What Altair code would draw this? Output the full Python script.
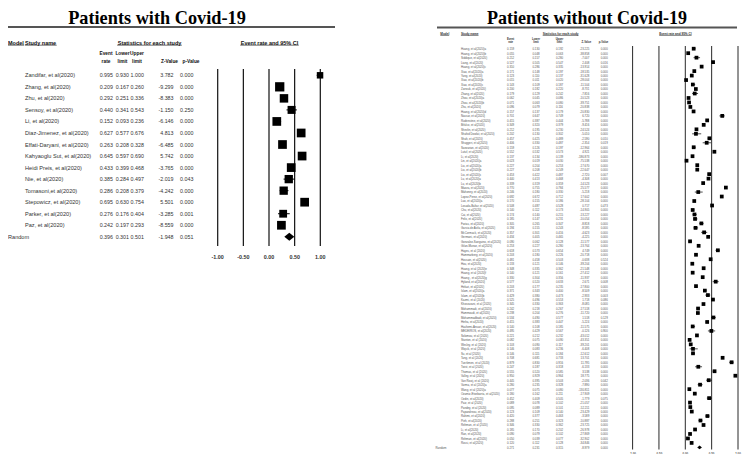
import altair as alt
import pandas as pd

# ---------------- data: patients with Covid-19 ----------------
L_NAMES = ["Zandifar, et al(2020)", "Zhang, et al(2020)", "Zhu, et al(2020)", "Sensoy, et al(2020)",
           "Li, et al(2020)", "Diaz-Jimenez, et al(2020)", "Effati-Daryani, et al(2020)",
           "Kahyaoglu Sut, et al(2020)", "Heidi Preis, et al(2020)", "Nie, et al(2020)",
           "Tomasoni,et al(2020)", "Stepowicz, et al(2020)", "Parker, et al(2020)", "Paz, et al(2020)"]
L_ER = [0.995, 0.209, 0.292, 0.440, 0.152, 0.627, 0.263, 0.645, 0.433, 0.385, 0.286, 0.695, 0.276, 0.242]
L_LL = [0.930, 0.167, 0.251, 0.341, 0.093, 0.577, 0.208, 0.597, 0.399, 0.284, 0.208, 0.630, 0.176, 0.197]
L_UL = [1.000, 0.260, 0.336, 0.543, 0.236, 0.676, 0.328, 0.690, 0.468, 0.497, 0.379, 0.754, 0.404, 0.293]
L_Z = [3.782, -9.299, -8.383, -1.150, -6.146, 4.813, -6.485, 5.742, -3.765, -2.019, -4.242, 5.501, -3.285, -8.559]
L_P = [0.000, 0.000, 0.000, 0.250, 0.000, 0.000, 0.000, 0.000, 0.000, 0.043, 0.000, 0.000, 0.001, 0.000]
L_WEIGHT = [4.2, 8.6, 7.2, 6.4, 7.6, 7.6, 7.6, 7.6, 7.6, 6.9, 6.9, 7.6, 6.1, 7.6]
L_RANDOM = [0.396, 0.301, 0.501, -1.948, 0.051]

# ---------------- data: patients without Covid-19 ----------------
R_NAMES = [
    "Huang, et al(2020)a", "Huang, et al(2020)b", "Siddique, et al(2020)", "Liang, et al(2020)",
    "Huang, et al(2020)c", "Xiao, et al(2020)a", "Yang, et al(2020)", "Xiao, et al(2020)b",
    "Xiao, et al(2020)c", "Zarrouk, et al(2020)", "Zhang, et al(2020)", "Zhou, et al(2020)a",
    "Zhou, et al(2020)b", "Zhu, et al(2020)", "Huang, et al(2020)d", "Nassar, et al(2020)",
    "Rudenstine, et al(2020)", "Bifulco, et al(2020)", "Shevlin, et al(2020)",
    "Shahid Dowlat, et al(2020)", "Shah, et al(2020)", "Shuggeri, et al(2020)",
    "Sarwarian, et al(2020)", "Lutuf, et al(2020)", "Li, et al(2020)", "Lin, et al(2020)a",
    "Liu, et al(2020)a", "Liu, et al(2020)b", "Liu, et al(2020)c", "Lu, et al(2020)a",
    "Lu, et al(2020)b", "Mazza, et al(2020)", "Mahoney, et al(2020)", "Lopez-Perez, et al(2020)",
    "Luo, et al(2020)a", "Losada-Baltar, et al(2020)", "Chu, et al(2020)", "Cai, et al(2020)",
    "Felix, et al(2020)", "Farias, et al(2020)", "Garcia de Avila, et al(2020)",
    "McCormack, et al(2020)", "Germani, et al(2020)", "Gonzalez-Sanguino, et al(2020)",
    "Gilan-Munoz, et al(2020)", "Hayes, et al (2020)", "Hammarberg, et al(2020)",
    "Hossain, et al(2020)", "Hou, et al(2020)", "Huang, et al (2020)e", "Huang, et al (2020)f",
    "Huang , et al(2020)g", "Hyland, et al(2020)", "Hefazi, et al(2020)", "Islam, et al(2020)a",
    "Islam, et al(2020)b", "Kazmi, et al (2020)", "Khosravani, et al (2020)",
    "Mohammadi, et al(2020)", "Hammoudi, et al(2020)", "Mohammadbadi, et al(2020)",
    "Hinha, et al(2020)", "Hashemi-Ansari, et al(2020)", "MEDEIROS, et al(2020)",
    "Solomou, et al (2020)", "Stanton, et al (2020)", "Wesley, et al (2020)",
    "Wojcik, et al (2020)", "Su, et al (2020)", "Tang, et al (2020)", "Tuerkmen, et al (2020)",
    "Twist, et al (2020)", "Thomas, et al (2020)", "Valley, et al (2020)",
    "Van Rooij, et al (2020)", "Varma, et al (2020)a", "Wang, et al (2020)a",
    "Ozamiz-Etxebarria, et al(2020)", "Ozdin, et al(2020)", "Paiz, et al (2020)",
    "Pandey, et al (2020)", "Papandreou, et al(2020)", "Rahimi, et al(2020)", "Pieh, et al(2020)",
    "Rehman, et al (2020)", "Li, et al(2020)", "Ran, et al(2020)", "Rehman, et al(2020)",
    "Rossi, et al(2020)"]
R_ER = [0.159, 0.055, 0.212, 0.527, 0.310, 0.171, 0.123, 0.015, 0.143, 0.200,
        0.179, 0.062, 0.071, 0.096, 0.157, 0.701, 0.415, 0.349, 0.212, 0.202,
        0.457, 0.406, 0.159, 0.552, 0.137, 0.023, 0.227, 0.227, 0.453, 0.440,
        0.339, 0.770, 0.246, 0.692, 0.170, 0.508, 0.140, 0.174, 0.185, 0.305,
        0.194, 0.357, 0.434, 0.090, 0.253, 0.618, 0.203, 0.481, 0.133, 0.348,
        0.140, 0.330, 0.577, 0.203, 0.371, 0.429, 0.525, 0.345, 0.242, 0.238,
        0.534, 0.415, 0.140, 0.495, 0.221, 0.082, 0.103, 0.146, 0.146, 0.708,
        0.879, 0.247, 0.555, 0.950, 0.445, 0.280, 0.077, 0.180, 0.452, 0.089,
        0.095, 0.123, 0.420, 0.288, 0.346, 0.185, 0.090, 0.050, 0.120]
R_LL = [0.130, 0.048, 0.157, 0.505, 0.286, 0.148, 0.110, 0.011, 0.109, 0.182,
        0.129, 0.045, 0.063, 0.079, 0.137, 0.647, 0.387, 0.320, 0.195, 0.130,
        0.425, 0.330, 0.126, 0.532, 0.134, 0.019, 0.204, 0.208, 0.422, 0.413,
        0.319, 0.755, 0.180, 0.672, 0.155, 0.487, 0.112, 0.140, 0.147, 0.265,
        0.155, 0.301, 0.405, 0.062, 0.227, 0.573, 0.180, 0.458, 0.121, 0.335,
        0.121, 0.304, 0.520, 0.177, 0.343, 0.380, 0.496, 0.330, 0.218, 0.204,
        0.490, 0.383, 0.108, 0.429, 0.212, 0.075, 0.090, 0.083, 0.115, 0.681,
        0.830, 0.187, 0.520, 0.929, 0.395, 0.235, 0.075, 0.162, 0.409, 0.078,
        0.089, 0.109, 0.377, 0.251, 0.330, 0.170, 0.079, 0.039, 0.112]
R_UL = [0.192, 0.063, 0.280, 0.547, 0.335, 0.197, 0.137, 0.020, 0.187, 0.220,
        0.242, 0.086, 0.080, 0.116, 0.179, 0.749, 0.444, 0.379, 0.230, 0.302,
        0.489, 0.487, 0.197, 0.573, 0.139, 0.030, 0.253, 0.249, 0.487, 0.468,
        0.359, 0.784, 0.330, 0.712, 0.186, 0.528, 0.173, 0.215, 0.231, 0.347,
        0.243, 0.416, 0.465, 0.128, 0.280, 0.654, 0.226, 0.503, 0.146, 0.362,
        0.161, 0.356, 0.633, 0.235, 0.400, 0.473, 0.553, 0.363, 0.267, 0.276,
        0.577, 0.447, 0.185, 0.567, 0.232, 0.090, 0.117, 0.236, 0.184, 0.733,
        0.916, 0.318, 0.585, 0.964, 0.503, 0.328, 0.080, 0.211, 0.505, 0.102,
        0.101, 0.140, 0.463, 0.323, 0.362, 0.202, 0.102, 0.077, 0.128]
R_Z = [-23.225, -38.858, -7.007, 2.408, -13.914, -18.535, -31.628, -28.004, -11.504, -8.731,
       -7.816, -10.523, -39.751, -20.838, -20.830, 6.720, -5.788, -9.416, -24.524, -5.010,
       -2.590, -2.354, -12.964, 4.921, -186.873, -75.538, -17.670, -22.647, -2.720, -4.308,
       -14.523, 25.577, -5.218, 17.602, -28.104, 0.717, -14.905, -13.227, -10.054, -8.818,
       -8.595, -4.623, -4.225, -11.577, -13.764, 4.749, -20.718, -0.638, -39.204, -21.548,
       -27.412, -11.937, 2.671, -17.800, -8.509, -2.933, 1.718, -8.085, -17.518, -11.720,
       1.518, -5.224, -11.575, -0.126, -43.012, -43.351, -39.201, -6.408, -12.612, 13.701,
       11.795, -6.133, 3.538, 18.775, -2.036, -7.890, -130.811, -17.909, -1.779, -21.057,
       -52.211, -23.429, -3.589, -10.887, -23.725, -26.978, -27.869, -32.902, -34.846]
R_P = [0.000, 0.000, 0.000, 0.016, 0.000, 0.000, 0.000, 0.000, 0.000, 0.000,
       0.000, 0.000, 0.000, 0.000, 0.000, 0.000, 0.000, 0.000, 0.000, 0.000,
       0.010, 0.019, 0.000, 0.000, 0.000, 0.000, 0.000, 0.000, 0.007, 0.000,
       0.000, 0.000, 0.000, 0.000, 0.000, 0.473, 0.000, 0.000, 0.000, 0.000,
       0.000, 0.000, 0.000, 0.000, 0.000, 0.000, 0.000, 0.524, 0.000, 0.000,
       0.000, 0.000, 0.008, 0.000, 0.000, 0.003, 0.086, 0.000, 0.000, 0.000,
       0.129, 0.000, 0.000, 0.900, 0.000, 0.000, 0.000, 0.000, 0.000, 0.000,
       0.000, 0.000, 0.000, 0.000, 0.042, 0.000, 0.000, 0.000, 0.075, 0.000,
       0.000, 0.000, 0.000, 0.000, 0.000, 0.000, 0.000, 0.000, 0.000]
R_RANDOM = [0.271, 0.231, 0.315, -8.979, 0.000]

TICKS = [-1.0, -0.5, 0.0, 0.5, 1.0]

for arr in (R_ER, R_LL, R_UL, R_Z, R_P):
    assert len(arr) == len(R_NAMES)

SANS = "Liberation Sans"
SERIF = "Liberation Serif"
DIAMOND = "M-1,0L0,-0.8L1,0L0,0.8Z"


def build(names, er, ll, ul, z, p, rnd, weight=None):
    n = len(names)
    df = pd.DataFrame({"name": names, "er": er, "ll": ll, "ul": ul, "z": z, "p": p,
                       "row": list(range(1, n + 1)), "kind": "study"})
    df["w"] = weight if weight is not None else 1.0
    r = pd.DataFrame([{"name": "Random", "er": rnd[0], "ll": rnd[1], "ul": rnd[2],
                       "z": rnd[3], "p": rnd[4], "row": n + 1, "kind": "summary", "w": 1.0}])
    df = pd.concat([df, r], ignore_index=True)
    for c in ["er", "ll", "ul", "z", "p"]:
        df[c + "_s"] = [f"{v:.3f}" for v in df[c]]
    return df


ONE = pd.DataFrame({"k": [0]})


def label(text, x, y, size, bold=False, align="left", font=SANS, color="black"):
    return alt.Chart(ONE).mark_text(
        text=text, align=align, baseline="middle", font=font, fontSize=size,
        fontWeight="bold" if bold else "normal", color=color
    ).encode(x=alt.value(x), y=alt.value(y))


def hline(x0, x1, y, width=1.0, color="black"):
    return alt.Chart(ONE).mark_rule(color=color, strokeWidth=width).encode(
        x=alt.value(x0), x2=alt.value(x1), y=alt.value(y))


def panel(df, P):
    nrows = int(df["row"].max())
    ys = alt.Scale(domain=[1, nrows], range=list(P["yrange"]), nice=False, zero=False)
    xs = alt.Scale(domain=[-1, 1], range=list(P["xrange"]), nice=False, zero=False)
    Y = alt.Y("row:Q", scale=ys, axis=None)
    base = alt.Chart(df)
    studies = base.transform_filter(alt.datum.kind == "study")
    summ = base.transform_filter(alt.datum.kind == "summary")
    fs, vfs, col = P["fs"], P["vfs"], P["txt"]
    L = []
    # titles / headers
    L.append(label(P["title"], P["title_x"], P["title_y"], P["title_fs"], bold=True,
                   align="center", font=SERIF))
    L.append(hline(P["hl"][0], P["hl"][1], P["hl"][2], P["hl"][3], "#555555"))
    for text, x, align, w in P["heads"]:
        L.append(label(text, x, P["head_y"], P["hfs"], bold=True, align=align, color=P["htxt"]))
        x0 = x if align == "left" else x - w / 2
        L.append(hline(x0, x0 + w, P["head_y"] + P["hfs"] * 0.45, 0.6, P["htxt"]))
    for text, x, line in P["subs"]:
        L.append(label(text, x, P["sub_y"][line], P["sfs"], bold=True, align="center",
                       color=P["htxt"]))
    # table
    L.append(studies.mark_text(align="left", baseline="middle", font=SANS, fontSize=fs,
                               color=col).encode(x=alt.value(P["name_x"]), y=Y, text="name:N"))
    L.append(summ.mark_text(align="left", baseline="middle", font=SANS, fontSize=fs,
                            color=col).encode(x=alt.value(P["random_x"]), y=Y, text="name:N"))
    for c, align in [("er", "center"), ("ll", "center"), ("ul", "center"),
                     ("z", "right"), ("p", "center")]:
        L.append(base.mark_text(align=align, baseline="middle", font=SANS, fontSize=vfs,
                                color=col).encode(x=alt.value(P["cols"][c]), y=Y,
                                                  text=c + "_s:N"))
    # forest area
    tdf = pd.DataFrame({"t": TICKS, "lab": [f"{t:.2f}" for t in TICKS]})
    L.append(alt.Chart(tdf).mark_rule(color="#111111", strokeWidth=P["gw"]).encode(
        x=alt.X("t:Q", scale=xs, axis=None), y=alt.value(P["gy"][0]), y2=alt.value(P["gy"][1])))
    L.append(alt.Chart(tdf).mark_text(align="center", baseline="middle", font=SANS,
                                      fontSize=P["tfs"], fontWeight="bold", color=col).encode(
        x=alt.X("t:Q", scale=xs, axis=None), y=alt.value(P["tick_y"]), text="lab:N"))
    L.append(studies.mark_rule(color="black", strokeWidth=P["ciw"]).encode(
        x=alt.X("ll:Q", scale=xs, axis=None), x2="ul:Q", y=Y))
    if P.get("sized"):
        L.append(studies.mark_square(color="black", opacity=1).encode(
            x=alt.X("er:Q", scale=xs, axis=None), y=Y,
            size=alt.Size("w:Q", scale=alt.Scale(domain=[0, 10], range=[0, 100]), legend=None)))
    else:
        L.append(studies.mark_square(color="black", opacity=1, size=P["sq"]).encode(
            x=alt.X("er:Q", scale=xs, axis=None), y=Y))
    L.append(summ.mark_point(shape=DIAMOND, filled=True, color="black", opacity=1,
                             size=P["dsize"]).encode(x=alt.X("er:Q", scale=xs, axis=None), y=Y))
    return L


left_df = build(L_NAMES, L_ER, L_LL, L_UL, L_Z, L_P, L_RANDOM, L_WEIGHT)
right_df = build(R_NAMES, R_ER, R_LL, R_UL, R_Z, R_P, R_RANDOM)

LEFT = dict(
    title="Patients with Covid-19", title_x=149, title_y=11, title_fs=18.3,
    hl=(0, 327, 19, 1.8),
    heads=[("Model", 0, "left", 16.2), ("Study name", 17, "left", 31.7),
           ("Statistics for each study", 141.5, "center", 64.7),
           ("Event rate and 95% CI", 261.5, "center", 58.5)],
    head_y=34.7, hfs=5.5, htxt="#111111",
    subs=[("Event", 98, 0), ("rate", 98, 1), ("Lower", 114.5, 0), ("limit", 114.5, 1),
          ("Upper", 129, 0), ("limit", 129, 1), ("Z-Value", 161.5, 1), ("p-Value", 183, 1)],
    sub_y=(46.3, 54.3), sfs=4.8,
    yrange=(67.3, 228.8), xrange=(209.7, 312.3),
    fs=5.6, vfs=5.3, txt="#333333", name_x=17, random_x=0,
    cols=dict(er=98.3, ll=114.3, ul=129.2, z=165.5, p=178.7),
    gw=1.2, gy=(61, 238), tick_y=248.5, tfs=5.4,
    ciw=1.0, sized=True, dsize=100,
)

RIGHT = dict(
    title="Patients without Covid-19", title_x=579, title_y=11, title_fs=18.0,
    hl=(429, 729, 19.5, 1.8),
    heads=[("Model", 432.3, "left", 8.9), ("Study name", 452.9, "left", 17.6),
           ("Statistics for each study", 552.6, "center", 35.8),
           ("Event rate and 95% CI", 667.4, "center", 32.4)],
    head_y=26, hfs=3.1, htxt="#333333",
    subs=[("Event", 502.6, 0), ("rate", 502.6, 1), ("Lower", 528.0, 0), ("limit", 528.0, 1),
          ("Upper", 551.5, 0), ("limit", 551.5, 1), ("Z-Value", 578.4, 1), ("p-Value", 595.5, 1)],
    sub_y=(31.3, 34.3), sfs=2.7,
    yrange=(40.7, 439.4), xrange=(624.6, 730.0),
    fs=2.85, vfs=2.85, txt="#555555", name_x=452.9, random_x=427.5,
    cols=dict(er=502.6, ll=528.0, ul=551.5, z=581.3, p=596.2),
    gw=0.9, gy=(38, 441.5), tick_y=445.2, tfs=2.9,
    ciw=0.7, sized=False, sq=14, dsize=22,
)

layers = panel(left_df, LEFT) + panel(right_df, RIGHT)

chart = alt.layer(*layers).resolve_scale(
    x="independent", y="independent", size="independent"
).properties(
    width=734, height=446, padding=0, autosize=alt.AutoSizeParams(type="none"),
    background="white"
).configure_view(stroke=None)

chart.save("out.html", embed_options={"renderer": "svg", "actions": False})
